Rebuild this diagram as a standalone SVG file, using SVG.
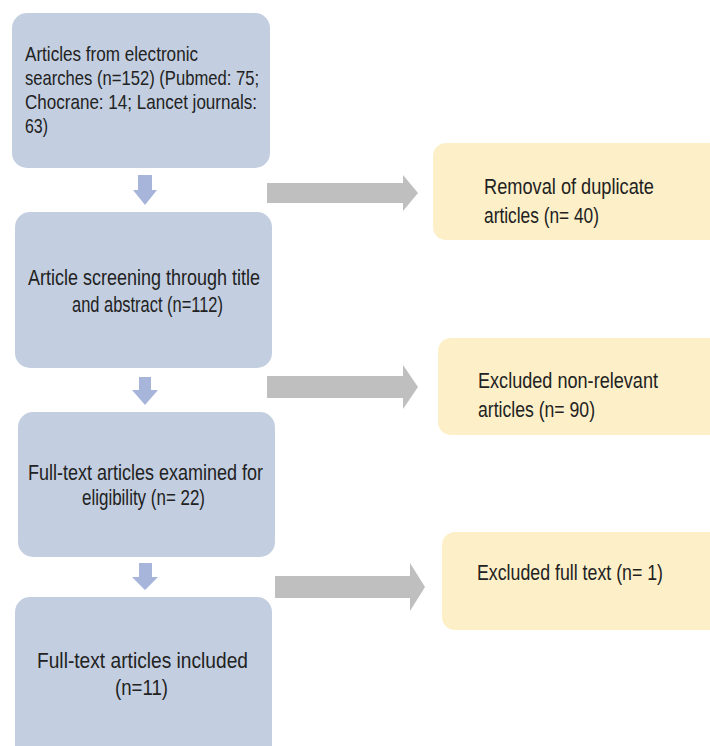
<svg xmlns="http://www.w3.org/2000/svg" width="710" height="746" viewBox="0 0 710 746">
<style>
.blue{fill:#c3cfe0}
.yel{fill:#fdf0c9}
.down{fill:#a7b5da}
.side{fill:#bfbfbf}
text{font-family:"Liberation Sans",Arial,sans-serif;font-size:21px;fill:#222}
.big{font-size:22px}
</style>
<rect width="710" height="746" fill="#ffffff"/>
<g id="connectors">
<path class="down" d="M138,175 H152 V190 H157 L145,205 L133,190 H138 Z"/>
<path class="down" d="M139,377 H151 V390 H158 L145,405 L132,390 H139 Z"/>
<path class="down" d="M139,563 H152 V577 H158 L145,590 L132,577 H139 Z"/>
<path class="side" d="M267,183 H403 V175 L418,193 L403,211 V203 H267 Z"/>
<path class="side" d="M267,376 H403 V365 L418,387 L403,409 V398 H267 Z"/>
<path class="side" d="M275,576 H410 V563 L425,587 L410,611 V598 H275 Z"/>
</g>
<g id="n1">
<rect class="blue" x="12" y="13" width="258" height="155" rx="15"/>
<text x="25" y="61" textLength="173" lengthAdjust="spacingAndGlyphs">Articles from electronic</text>
<text x="25" y="85" textLength="234" lengthAdjust="spacingAndGlyphs">searches (n=152) (Pubmed: 75;</text>
<text x="25" y="109" textLength="232" lengthAdjust="spacingAndGlyphs">Chocrane: 14; Lancet journals:</text>
<text x="25" y="133" textLength="23" lengthAdjust="spacingAndGlyphs">63)</text>
</g>
<g id="n2">
<rect class="blue" x="15" y="212" width="257" height="156" rx="15"/>
<text class="big" x="28" y="285" textLength="232" lengthAdjust="spacingAndGlyphs">Article screening through title</text>
<text class="big" x="72" y="312" textLength="151" lengthAdjust="spacingAndGlyphs">and abstract (n=112)</text>
</g>
<g id="n3">
<rect class="blue" x="18" y="412" width="257" height="145" rx="15"/>
<text class="big" x="28" y="480" textLength="235" lengthAdjust="spacingAndGlyphs">Full-text articles examined for</text>
<text class="big" x="82" y="505" textLength="123" lengthAdjust="spacingAndGlyphs">eligibility (n= 22)</text>
</g>
<g id="n4">
<rect class="blue" x="15" y="597" width="257" height="170" rx="15"/>
<text class="big" x="37" y="668" textLength="211" lengthAdjust="spacingAndGlyphs">Full-text articles included</text>
<text class="big" x="115" y="695" textLength="53" lengthAdjust="spacingAndGlyphs">(n=11)</text>
</g>
<g id="y1">
<rect class="yel" x="433" y="143" width="300" height="97" rx="13"/>
<text class="big" x="484" y="194" textLength="170" lengthAdjust="spacingAndGlyphs">Removal of duplicate</text>
<text class="big" x="484" y="223" textLength="115" lengthAdjust="spacingAndGlyphs">articles (n= 40)</text>
</g>
<g id="y2">
<rect class="yel" x="438" y="338" width="300" height="97" rx="13"/>
<text class="big" x="478" y="388" textLength="180" lengthAdjust="spacingAndGlyphs">Excluded non-relevant</text>
<text class="big" x="478" y="417" textLength="117" lengthAdjust="spacingAndGlyphs">articles (n= 90)</text>
</g>
<g id="y3">
<rect class="yel" x="442" y="532" width="300" height="98" rx="13"/>
<text class="big" x="477" y="580" textLength="186" lengthAdjust="spacingAndGlyphs">Excluded full text (n= 1)</text>
</g>
</svg>
